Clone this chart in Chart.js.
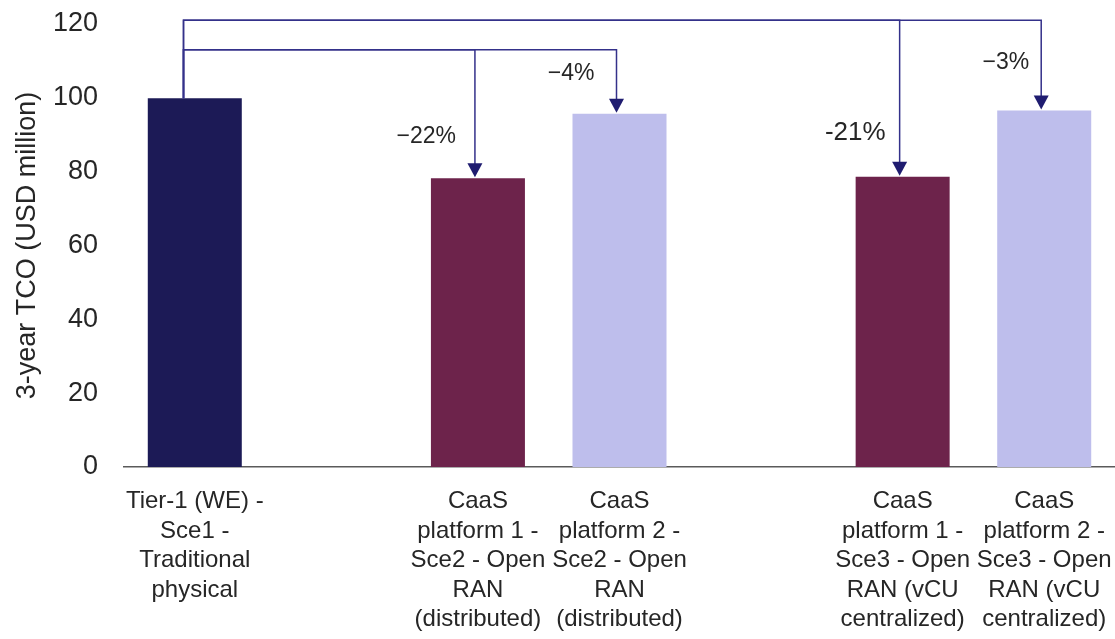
<!DOCTYPE html>
<html>
<head>
<meta charset="utf-8">
<title>3-year TCO</title>
<script src="https://cdn.jsdelivr.net/npm/chart.js@4.4.1/dist/chart.umd.min.js"></script>
<style>
	html, body { margin: 0; padding: 0; background: #fff; }
	#wrap { width: 1115px; height: 639px; position: relative; }
</style>
</head>
<body>
<div id="wrap"><canvas id="tco"></canvas></div>
<script>
// scenarios, with empty slots between the three groups
const categories = [
	[`Tier-1 (WE) -`, `Sce1 -`, `Traditional`, `physical`],
	``,
	[`CaaS`, `platform 1 -`, `Sce2 - Open`, `RAN`, `(distributed)`],
	[`CaaS`, `platform 2 -`, `Sce2 - Open`, `RAN`, `(distributed)`],
	``,
	[`CaaS`, `platform 1 -`, `Sce3 - Open`, `RAN (vCU`, `centralized)`],
	[`CaaS`, `platform 2 -`, `Sce3 - Open`, `RAN (vCU`, `centralized)`]
];
const tcoValues = [99.9, null, 78.2, 95.7, null, 78.6, 96.6];
const yTicks = [0, 20, 40, 60, 80, 100, 120];

const navy = `#1c1a56`;
const plum = `#6d234b`;
const lavender = `#bebeec`;
const barColors = [navy, null, plum, lavender, null, plum, lavender];

// comparison arrows: baseline index -> target index, bracket height and label height (axis units),
// label gap from the arrow in px
const comparisons = [
	{from: 0, to: 2, bracket: 113, labelY: 89.5, gap: 19, size: 23, minus: `\u2212`},
	{from: 0, to: 3, bracket: 113, labelY: 106.5, gap: 22, size: 23, minus: `\u2212`},
	{from: 0, to: 5, bracket: 121, labelY: 90.5, gap: 14, size: 26, minus: `-`},
	{from: 0, to: 6, bracket: 121, labelY: 109.5, gap: 12, size: 23, minus: `\u2212`}
];

const arrowPlugin = {
	id: `tcoArrows`,
	afterDatasetsDraw(chart) {
		const {ctx} = chart;
		const y = chart.scales.y;
		const bars = chart.getDatasetMeta(0).data;
		ctx.save();
		comparisons.forEach(c => {
			const base = bars[c.from];
			const target = bars[c.to];
			const x0 = base.x - base.width * 0.12;
			const x1 = target.x - 3;
			const yb = y.getPixelForValue(c.bracket);
			const yt = y.getPixelForValue(tcoValues[c.to]);
			ctx.strokeStyle = `#34318a`;
			ctx.lineWidth = 1.5;
			ctx.beginPath();
			ctx.moveTo(x0, y.getPixelForValue(tcoValues[c.from]));
			ctx.lineTo(x0, yb);
			ctx.lineTo(x1, yb);
			ctx.lineTo(x1, yt - 12);
			ctx.stroke();
			// arrow head
			ctx.fillStyle = `#1f1c70`;
			ctx.beginPath();
			ctx.moveTo(x1 - 7.5, yt - 15);
			ctx.lineTo(x1 + 7.5, yt - 15);
			ctx.lineTo(x1, yt - 1);
			ctx.closePath();
			ctx.fill();
			// percent change label
			const pct = Math.round((tcoValues[c.to] / tcoValues[c.from] - 1) * 100);
			ctx.fillStyle = `#262626`;
			ctx.font = `${c.size}px "Liberation Sans", Arial, sans-serif`;
			ctx.textAlign = `right`;
			ctx.textBaseline = `middle`;
			ctx.fillText(`${c.minus}${Math.abs(pct)}%`, x1 - c.gap, y.getPixelForValue(c.labelY));
		});
		ctx.restore();
	}
};

new Chart(document.getElementById(`tco`), {
	type: `bar`,
	data: {
		labels: categories,
		datasets: [{
			data: tcoValues,
			backgroundColor: barColors,
			barPercentage: 0.664,
			categoryPercentage: 1
		}]
	},
	options: {
		responsive: true,
		maintainAspectRatio: false,
		animation: false,
		layout: {padding: {top: 24, right: 0, left: 0, bottom: 0}},
		plugins: {legend: {display: false}, tooltip: {enabled: false}},
		scales: {
			x: {
				afterFit: scale => {
					// long labels may run past the plot edges
					scale.paddingLeft = 0;
					scale.paddingRight = 0;
					scale.height = 172;
				},
				grid: {display: false},
				border: {display: true, color: `#5a5a5a`, width: 1.5},
				ticks: {
					color: `#262626`,
					font: {family: `"Liberation Sans", Arial, sans-serif`, size: 24, lineHeight: 1.23},
					padding: 12,
					maxRotation: 0,
					autoSkip: false
				}
			},
			y: {
				min: 0,
				max: 120,
				afterBuildTicks: scale => { scale.ticks = yTicks.map(v => ({value: v})); },
				afterFit: scale => {
					scale.width = 124;
					scale.paddingTop = 0;
				},
				grid: {display: false},
				border: {display: false},
				ticks: {
					color: `#262626`,
					font: {family: `"Liberation Sans", Arial, sans-serif`, size: 27},
					padding: 18
				},
				title: {
					display: true,
					text: `3-year TCO (USD million)`,
					color: `#262626`,
					font: {family: `"Liberation Sans", Arial, sans-serif`, size: 27},
					padding: {top: 11, bottom: 0}
				}
			}
		}
	},
	plugins: [arrowPlugin]
});
</script>
</body>
</html>
